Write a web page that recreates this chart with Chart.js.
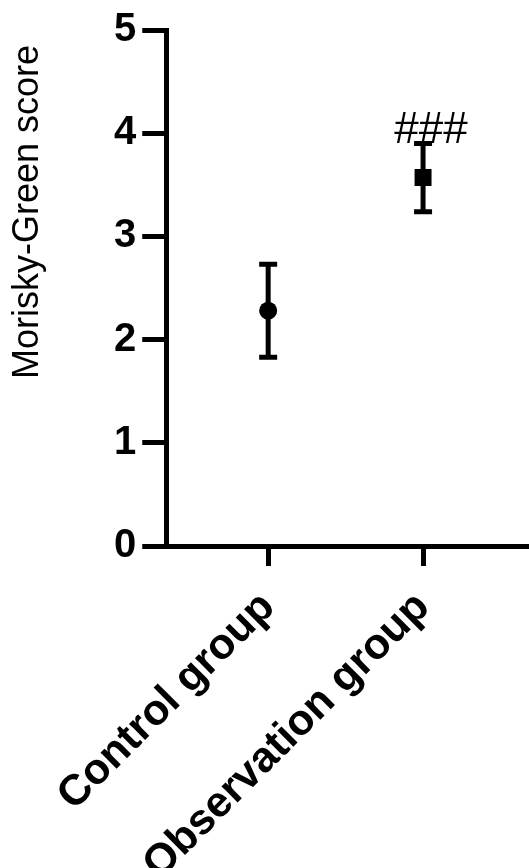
<!DOCTYPE html>
<html>
<head>
<meta charset="utf-8">
<script src="https://cdn.jsdelivr.net/npm/chart.js@4/dist/chart.umd.min.js"></script>
<style>
  html, body { margin: 0; padding: 0; background: #fff; }
  #wrap { width: 529px; height: 868px; }
</style>
</head>
<body>
<div id="wrap"><canvas id="mgChart" width="529" height="868"></canvas></div>
<script>
'use strict';

// data
const groups = ['Control group', 'Observation group'];
const means = [2.28, 3.57];
const sds = [0.45, 0.33];
const markers = ['circle', 'rect'];
const markerSizes = [9, 12];
const yTicks = [0, 1, 2, 3, 4, 5];
const sigMarks = ['', '###'];
const yTitle = 'Morisky-Green score';

const font = 'Liberation Sans, Arial, sans-serif';

// error bars (mean ± SD) under the markers, ### and the y title on top
const errorBars = {
    id: 'errorBars',
    beforeDatasetsDraw(chart) {
        const { ctx, scales: { x, y } } = chart;
        ctx.save();
        ctx.strokeStyle = '#000';
        ctx.lineWidth = 5;
        ctx.lineCap = 'butt';
        means.forEach((m, i) => {
            const px = x.getPixelForValue(i + 1);
            const top = y.getPixelForValue(m + sds[i]);
            const bot = y.getPixelForValue(m - sds[i]);
            ctx.beginPath();
            ctx.moveTo(px, top); ctx.lineTo(px, bot);
            ctx.moveTo(px - 9, top); ctx.lineTo(px + 9, top);
            ctx.moveTo(px - 9, bot); ctx.lineTo(px + 9, bot);
            ctx.stroke();
        });
        ctx.restore();
    },
    afterDatasetsDraw(chart) {
        const { ctx, scales: { x, y } } = chart;
        ctx.save();
        ctx.fillStyle = '#000';
        ctx.font = '44px ' + font;
        ctx.textAlign = 'center';
        ctx.textBaseline = 'middle';
        sigMarks.forEach((s, i) => {
            if (!s) return;
            ctx.fillText(s, x.getPixelForValue(i + 1) + 8, y.getPixelForValue(means[i] + sds[i] + 0.12));
        });
        // y axis title, set a bit above the middle as in the figure
        ctx.translate(28, 212);
        ctx.rotate(-Math.PI / 2);
        ctx.font = '36px ' + font;
        ctx.fillText(yTitle, 0, 0);
        ctx.restore();
    }
};

new Chart(document.getElementById('mgChart'), {
    type: 'scatter',
    data: {
        datasets: [{
            data: means.map((m, i) => ({ x: i + 1, y: m })),
            pointStyle: markers,
            pointRadius: markerSizes,
            pointHoverRadius: markerSizes,
            backgroundColor: '#000',
            borderColor: '#000',
            borderWidth: 0,
            showLine: false
        }]
    },
    options: {
        responsive: false,
        animation: false,
        layout: { autoPadding: false, padding: { top: 6, right: 0, left: 108, bottom: 0 } },
        plugins: { legend: { display: false }, tooltip: { enabled: false } },
        scales: {
            x: {
                type: 'linear',
                min: 0.342,
                max: 2.684,
                afterBuildTicks: s => { s.ticks = groups.map((g, i) => ({ value: i + 1 })); },
                afterFit: s => { s.height = 322; s.paddingRight = 0; s.paddingLeft = 0; },
                border: { color: '#000', width: 5 },
                grid: { drawOnChartArea: false, tickLength: 20, tickWidth: 5, tickColor: '#000' },
                ticks: {
                    color: '#000',
                    font: { family: font, size: 43, weight: 'bold' },
                    maxRotation: 45, minRotation: 45,
                    padding: 16,
                    callback: v => groups[v - 1] || ''
                }
            },
            y: {
                min: 0,
                max: 5,
                afterBuildTicks: s => { s.ticks = yTicks.map(v => ({ value: v })); },
                border: { color: '#000', width: 5 },
                grid: { drawOnChartArea: false, tickLength: 24, tickWidth: 5, tickColor: '#000' },
                ticks: {
                    color: '#000',
                    font: { family: font, size: 40, weight: 'bold' },
                    padding: 6
                }
            }
        }
    },
    plugins: [errorBars]
});
</script>
</body>
</html>
